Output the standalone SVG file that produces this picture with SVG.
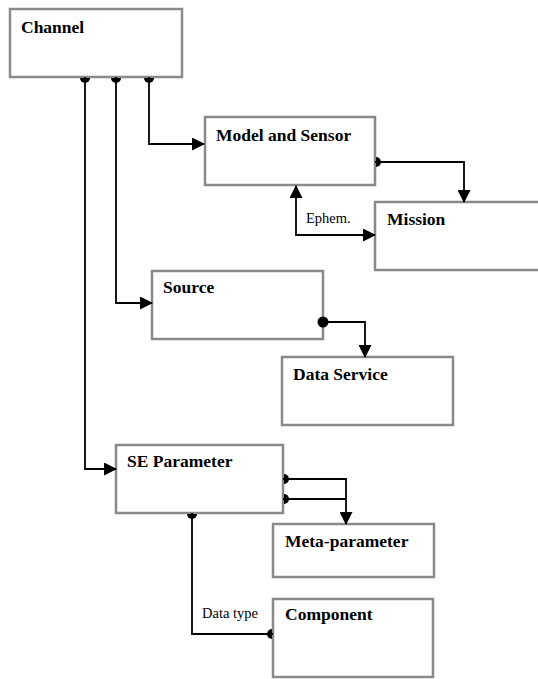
<svg xmlns="http://www.w3.org/2000/svg" width="538" height="679" viewBox="0 0 538 679">
<style>
.box{fill:#fff;stroke:#8a8a8a;stroke-width:2.5}
.t{font-family:'Liberation Serif','Times New Roman',serif;font-weight:bold;font-size:17.5px;fill:#000}
.lbl{font-family:'Liberation Serif','Times New Roman',serif;font-size:14.5px;fill:#000}
.c{fill:none;stroke:#000;stroke-width:1.8}
.d{fill:#000}
</style>
<defs>
<marker id="arr" markerUnits="userSpaceOnUse" markerWidth="13" markerHeight="13" viewBox="0 0 13 13" refX="12" refY="6.5" orient="auto-start-reverse">
<path d="M0,0 L13,6.5 L0,13 Z" fill="#000"/>
</marker>
</defs>
<rect width="538" height="679" fill="#fff"/>
<g id="channel"><rect class="box" x="10" y="9" width="172" height="68"/><text class="t" x="21" y="33">Channel</text></g>
<g id="model-sensor"><rect class="box" x="205" y="117" width="170" height="68"/><text class="t" x="216" y="141">Model and Sensor</text></g>
<g id="mission"><rect class="box" x="375" y="202" width="175" height="68"/><text class="t" x="387" y="225">Mission</text></g>
<g id="source"><rect class="box" x="152" y="271" width="171" height="68"/><text class="t" x="163" y="293">Source</text></g>
<g id="data-service"><rect class="box" x="282" y="357" width="171" height="68"/><text class="t" x="293" y="380">Data Service</text></g>
<g id="se-parameter"><rect class="box" x="116" y="445" width="167" height="68"/><text class="t" x="127" y="467">SE Parameter</text></g>
<g id="meta-parameter"><rect class="box" x="273" y="524" width="161" height="53"/><text class="t" x="285" y="547">Meta-parameter</text></g>
<g id="component"><rect class="box" x="273" y="599" width="160" height="78"/><text class="t" x="285" y="620">Component</text></g>
<g id="connectors">
<path class="c" d="M149,77 V144 H204" marker-end="url(#arr)"/>
<path class="c" d="M116,77 V303 H152" marker-end="url(#arr)"/>
<path class="c" d="M85,77 V469 H116" marker-end="url(#arr)"/>
<path class="c" d="M375,162 H464 V202" marker-end="url(#arr)"/>
<path class="c" d="M296,186 V235 H375" marker-start="url(#arr)" marker-end="url(#arr)"/>
<path class="c" d="M323,322 H365 V357" marker-end="url(#arr)"/>
<path class="c" d="M283,479 H346 V524" marker-end="url(#arr)"/>
<path class="c" d="M283,499 H346"/>
<path class="c" d="M192,513 V634 H273"/>
<path class="d" d="M80,78 A5,5 0 0 0 90,78 Z"/>
<path class="d" d="M111,78 A5,5 0 0 0 121,78 Z"/>
<path class="d" d="M144,78 A5,5 0 0 0 154,78 Z"/>
<path class="d" d="M376,157 A5,5 0 0 1 376,167 Z"/>
<circle class="d" cx="323" cy="322" r="5.5"/>
<path class="d" d="M284,474 A5,5 0 0 1 284,484 Z"/>
<path class="d" d="M284,494 A5,5 0 0 1 284,504 Z"/>
<path class="d" d="M187,514 A5,5 0 0 0 197,514 Z"/>
<path class="d" d="M272,629 A5,5 0 0 0 272,639 Z"/>
<text class="lbl" x="306" y="223">Ephem.</text>
<text class="lbl" x="202" y="618">Data type</text>
</g>
</svg>
